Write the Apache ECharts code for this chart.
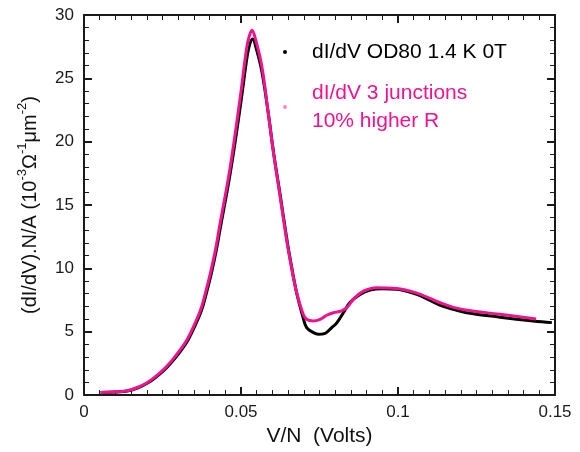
<!DOCTYPE html>
<html>
<head>
<meta charset="utf-8">
<script src="https://cdn.jsdelivr.net/npm/echarts@6/dist/echarts.min.js"></script>
<style>html,body{margin:0;padding:0;background:#fff;}#c{width:580px;height:452px;}</style>
</head>
<body>
<div id="c"></div>
<script>
// Measured dI/dV OD80 1.4 K 0T (black)
const xBlack = [0.0053,0.0106,0.0138,0.0172,0.0204,0.0230,0.0257,0.0283,0.0310,0.0331,0.0352,0.0374,0.0389,0.0405,0.0421,0.0432,0.0467,0.0499,0.0520,0.0528,0.0537,0.0548,0.0566,0.0586,0.0604,0.0626,0.0646,0.0657,0.0677,0.0698,0.0709,0.0730,0.0746,0.0768,0.0789,0.0805,0.0826,0.0847,0.0879,0.0911,0.0950,0.0996,0.106,0.1100,0.1144,0.1176,0.1219,0.1325,0.1431,0.1490];
const yBlack = [0.2,0.25,0.33,0.58,0.97,1.43,2.0,2.7,3.55,4.33,5.38,6.68,7.98,9.55,11.4,12.9,17.7,23.0,26.8,27.7,28.1,27.4,25.6,22.4,19.1,15.6,12.3,10.7,8.1,6.1,5.33,4.94,4.8,4.88,5.33,5.7,6.5,7.3,7.95,8.29,8.4,8.35,7.95,7.5,7.0,6.77,6.5,6.15,5.85,5.72];
// Model dI/dV 3 junctions, 10% higher R (pink)
const xPink = [0.0053,0.0106,0.0138,0.0170,0.0202,0.0228,0.0255,0.0281,0.0308,0.0329,0.0350,0.0372,0.0387,0.0403,0.0419,0.0430,0.0465,0.0497,0.0518,0.0526,0.0535,0.0546,0.0566,0.0585,0.0603,0.0625,0.0645,0.0656,0.0677,0.0698,0.0709,0.0730,0.0752,0.0773,0.0794,0.0820,0.0837,0.0858,0.0890,0.0932,0.0996,0.106,0.1100,0.1144,0.1176,0.1219,0.1325,0.1440];
const yPink = [0.21,0.26,0.34,0.6,1.0,1.47,2.05,2.76,3.62,4.41,5.46,6.77,8.08,9.66,11.5,13.07,17.9,23.4,27.4,28.3,28.8,28.1,26.0,22.6,19.2,15.6,12.3,10.7,8.1,6.38,5.98,5.85,5.98,6.3,6.5,6.65,6.9,7.56,8.2,8.48,8.42,8.05,7.65,7.2,6.92,6.7,6.38,6.0];
const xTicks = [0, 0.05, 0.1, 0.15];
const yTicks = [0, 5, 10, 15, 20, 25, 30];
const legendNames = ['dI/dV OD80 1.4 K 0T', 'dI/dV 3 junctions\n10% higher R'];

const BLACK = '#000000';
const PINK = '#f0148c';
const AX = '#1a1a1a';
const FONT = '"Liberation Sans", Arial, sans-serif';

const chart = echarts.init(document.getElementById('c'));
chart.setOption({
  animation: false,
  backgroundColor: '#fff',
  grid: {left: 84, right: 25, top: 15, bottom: 56},
  xAxis: [
    {
      type: 'value', min: 0, max: 0.15, interval: 0.05, position: 'bottom',
      axisLine: {show: true, onZero: false, lineStyle: {color: AX, width: 2}},
      axisTick: {show: true, inside: true, length: 8, lineStyle: {color: AX, width: 2}},
      minorTick: {show: true, splitNumber: 10, length: 5, lineStyle: {color: AX, width: 1}},
      splitLine: {show: false},
      name: 'V/N  (Volts)', nameLocation: 'middle', nameGap: 30,
      nameTextStyle: {fontFamily: FONT, fontSize: 21, color: '#111'},
      axisLabel: {margin: 9, fontFamily: FONT, fontSize: 17, color: AX,
        formatter: v => xTicks.includes(+v.toFixed(3)) ? String(+v.toFixed(3)) : ''}
    },
    {
      type: 'value', min: 0, max: 0.15, interval: 0.05, position: 'top',
      axisLine: {show: true, onZero: false, lineStyle: {color: AX, width: 2}},
      axisTick: {show: true, inside: true, length: 8, lineStyle: {color: AX, width: 2}},
      minorTick: {show: true, splitNumber: 10, length: 5, lineStyle: {color: AX, width: 1}},
      splitLine: {show: false},
      axisLabel: {color: 'rgba(0,0,0,0)', fontSize: 1}
    }
  ],
  yAxis: [
    {
      type: 'value', min: 0, max: 30, interval: 5, position: 'left',
      axisLine: {show: true, onZero: false, lineStyle: {color: AX, width: 2}},
      axisTick: {show: true, inside: true, length: 8, lineStyle: {color: AX, width: 2}},
      minorTick: {show: true, splitNumber: 5, length: 5, lineStyle: {color: AX, width: 1}},
      splitLine: {show: false},
      name: '{n|(dI/dV).N/A (10}{s|-3}{n|Ω}{s|-1}{n|μm}{s|-2}{n|)}',
      nameLocation: 'middle', nameGap: 44, nameRotate: 90,
      nameTextStyle: {
        fontFamily: FONT, fontSize: 20, color: '#111',
        rich: {
          n: {fontFamily: FONT, fontSize: 20, color: '#111', lineHeight: 24, verticalAlign: 'bottom'},
          s: {fontFamily: FONT, fontSize: 13, color: '#111', lineHeight: 24, verticalAlign: 'top'}
        }
      },
      axisLabel: {margin: 10, fontFamily: FONT, fontSize: 17, color: AX,
        formatter: v => yTicks.includes(v) ? String(v) : ''}
    },
    {
      type: 'value', min: 0, max: 30, interval: 5, position: 'right',
      axisLine: {show: true, onZero: false, lineStyle: {color: AX, width: 2}},
      axisTick: {show: true, inside: true, length: 8, lineStyle: {color: AX, width: 2}},
      minorTick: {show: true, splitNumber: 5, length: 5, lineStyle: {color: AX, width: 1}},
      splitLine: {show: false},
      axisLabel: {color: 'rgba(0,0,0,0)', fontSize: 1}
    }
  ],
  series: [
    {
      name: legendNames[0], type: 'line', xAxisIndex: 0, yAxisIndex: 0,
      data: xBlack.map((x, i) => [x, yBlack[i]]),
      smooth: 0.4, symbol: 'none',
      lineStyle: {color: BLACK, width: 3}, itemStyle: {color: BLACK}, z: 2
    },
    {
      name: legendNames[1], type: 'line', xAxisIndex: 1, yAxisIndex: 1,
      data: xPink.map((x, i) => [x, yPink[i]]),
      smooth: 0.4, symbol: 'none',
      lineStyle: {color: PINK, width: 3}, itemStyle: {color: PINK}, z: 3
    }
  ],
  legend: {
    show: true, orient: 'vertical', left: 278, top: 33, itemGap: 13,
    icon: 'circle', itemWidth: 4, itemHeight: 4,
    data: [
      {name: legendNames[0], textStyle: {color: BLACK}, itemStyle: {color: BLACK}},
      {name: legendNames[1], textStyle: {color: PINK}, itemStyle: {color: '#f58cc0'}}
    ],
    textStyle: {fontFamily: FONT, fontSize: 21, lineHeight: 28, padding: [0, 0, 0, 20]},
    selectedMode: false
  }
});
</script>
</body>
</html>
